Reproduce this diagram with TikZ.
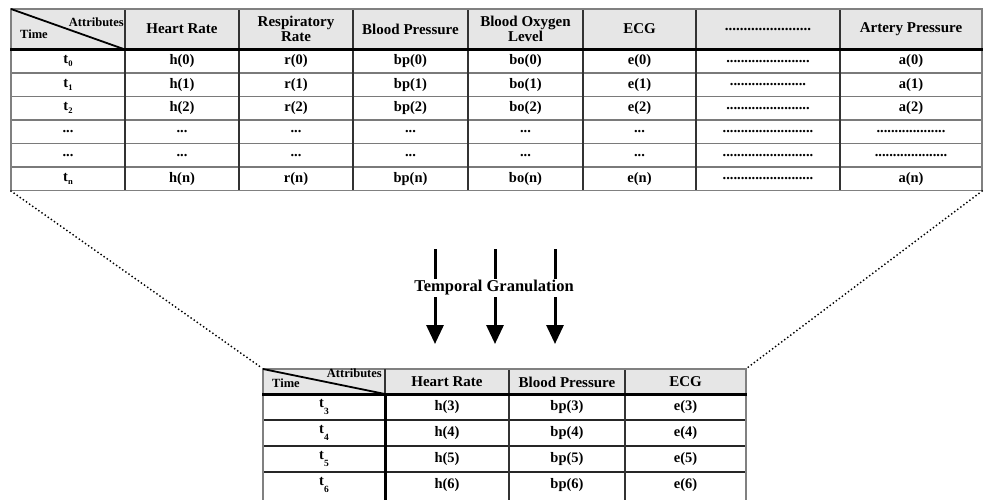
\documentclass[tikz,border=0pt]{standalone}
\usepackage{fontspec}
\setmainfont{Liberation Serif}
\usetikzlibrary{arrows.meta}
\definecolor{hdrfill}{HTML}{E6E6E6}
\definecolor{hgray}{HTML}{7A7A7A}
\definecolor{vdark}{HTML}{333333}
\newcommand{\tsub}[1]{t\raisebox{-3pt}{\fontsize{8.5}{8.5}\selectfont #1}}
\newcommand{\tsubb}[1]{t\raisebox{-6.5pt}{\fontsize{9.5}{9.5}\selectfont #1}}
\tikzset{
  x=1pt, y=-1pt,
  cell/.style={font=\fontsize{14.5}{14.5}\selectfont\bfseries, inner sep=0pt, anchor=center},
  hcell/.style={font=\fontsize{15}{15}\selectfont\bfseries, inner sep=0pt, align=center, anchor=center},
  small/.style={font=\fontsize{12.5}{12.5}\selectfont\bfseries, inner sep=0pt},
  hline/.style={draw=hgray, line width=1.2pt},
  vline/.style={draw=vdark, line width=1.3pt},
  border/.style={draw=black!50, line width=1.2pt},
  sepline/.style={draw=black, line width=3pt},
  diag/.style={draw=black, line width=1.8pt},
  dotline/.style={draw=black, line width=2pt, line cap=round, dash pattern=on 0pt off 3.8pt},
  bigarrow/.style={draw=black, line width=3pt, -{Triangle[width=17pt,length=19pt]}},
  label/.style={font=\fontsize{16.5}{16.5}\selectfont\bfseries, fill=white, inner sep=1.5pt}
}
\begin{document}
\begin{tikzpicture}
\useasboundingbox (0,0) rectangle (984,499);
% ---------------- top table ----------------
\fill[hdrfill] (11,9) rectangle (982,49.5);
\foreach \yy in {73,96.5,120,143.5,167} \draw[hline] (11,\yy) -- (982,\yy);
\foreach \xx in {125,239,353,468,583,696,840} \draw[vline] (\xx,9) -- (\xx,190.5);
\draw[border] (11,9) rectangle (982,190.5);
\draw[sepline] (10,49.5) -- (983,49.5);
\draw[diag] (11,9) -- (125,49.5);
\node[small, anchor=west] (tTime) at (20,34) {Time};
\node[small, anchor=east] (tAttr) at (124,22) {Attributes};
\node[hcell] (th2) at (182,29) {Heart Rate};
\node[hcell] (th3) at (296,29) {Respiratory\\Rate};
\node[hcell] (th4) at (410.5,29) {Blood Pressure};
\node[hcell] (th5) at (525.5,29) {Blood Oxygen\\Level};
\node[hcell] (th6) at (639.5,29) {ECG};
\node[hcell] (th7) at (768,29) {.......................};
\node[hcell] (th8) at (911,29) {Artery Pressure};
\foreach \y/\n/\a/\b/\c/\d/\e/\f/\g/\h in {
  61.25/r0/{\tsub{0}}/h(0)/r(0)/bp(0)/bo(0)/e(0)/{.......................}/a(0),
  84.75/r1/{\tsub{1}}/h(1)/r(1)/bp(1)/bo(1)/e(1)/{.....................}/a(1),
  108.25/r2/{\tsub{2}}/h(2)/r(2)/bp(2)/bo(2)/e(2)/{.......................}/a(2),
  131.75/r3/{...}/{...}/{...}/{...}/{...}/{...}/{.........................}/{...................},
  155.25/r4/{...}/{...}/{...}/{...}/{...}/{...}/{.........................}/{....................},
  178.75/r5/{\tsub{n}}/h(n)/r(n)/bp(n)/bo(n)/e(n)/{.........................}/a(n)} {
  \node[cell] (\n-1) at (68,\y) {\a};
  \node[cell] (\n-2) at (182,\y) {\b};
  \node[cell] (\n-3) at (296,\y) {\c};
  \node[cell] (\n-4) at (410.5,\y) {\d};
  \node[cell] (\n-5) at (525.5,\y) {\e};
  \node[cell] (\n-6) at (639.5,\y) {\f};
  \node[cell] (\n-7) at (768,\y) {\g};
  \node[cell] (\n-8) at (911,\y) {\h};
}
% corners
\coordinate (topBL) at (11,191);
\coordinate (topBR) at (982,191);
\coordinate (botTL) at (262,368);
\coordinate (botTR) at (747,368);
\draw[dotline] (topBL) -- (botTL);
\draw[dotline] (topBR) -- (botTR);
% ---------------- arrows ----------------
\coordinate (a1s) at (435,249); \coordinate (a1e) at (435,344);
\coordinate (a2s) at (495,249); \coordinate (a2e) at (495,344);
\coordinate (a3s) at (555,249); \coordinate (a3e) at (555,344);
\draw[bigarrow] (a1s) -- (a1e);
\draw[bigarrow] (a2s) -- (a2e);
\draw[bigarrow] (a3s) -- (a3e);
\node[label] (tg) at (494,288) {Temporal Granulation};
% ---------------- bottom table ----------------
\fill[hdrfill] (263,369) rectangle (746,394);
\foreach \yy in {420,446,472} \draw[draw=black!85, line width=1.2pt] (263,\yy) -- (746,\yy);
\foreach \xx in {509,625} \draw[vline] (\xx,369) -- (\xx,500);
\draw[border] (263,500) -- (263,369) -- (746,369) -- (746,500);
\draw[vline] (385,369) -- (385,394);
\draw[sepline] (385,394) -- (385,500);
\draw[sepline] (262,394) -- (747,394);
\draw[diag] (263,369) -- (385,394);
\node[small, anchor=west] (bTime) at (272,383) {Time};
\node[small, anchor=east] (bAttr) at (382,373.5) {Attributes};
\node[hcell] (bh2) at (447,382) {Heart Rate};
\node[hcell] (bh3) at (567,382) {Blood Pressure};
\node[hcell] (bh4) at (685.5,382) {ECG};
\foreach \y/\n/\a/\b/\c/\d in {
  407/s3/{\tsubb{3}}/h(3)/bp(3)/e(3),
  433/s4/{\tsubb{4}}/h(4)/bp(4)/e(4),
  459/s5/{\tsubb{5}}/h(5)/bp(5)/e(5),
  485/s6/{\tsubb{6}}/h(6)/bp(6)/e(6)} {
  \node[cell] (\n-1) at (324,\y) {\a};
  \node[cell] (\n-2) at (447,\y) {\b};
  \node[cell] (\n-3) at (567,\y) {\c};
  \node[cell] (\n-4) at (685.5,\y) {\d};
}
\end{tikzpicture}
\end{document}
